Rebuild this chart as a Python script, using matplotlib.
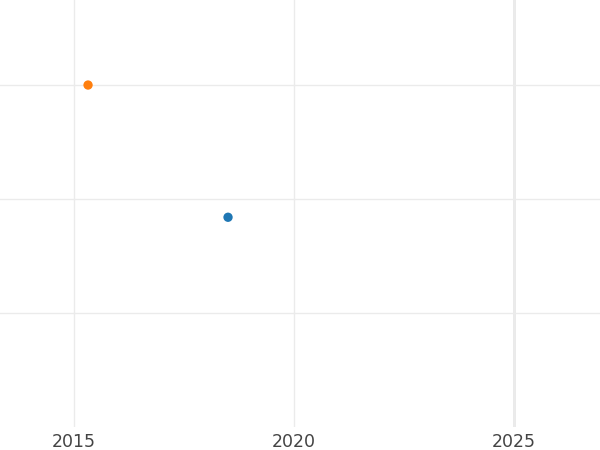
import matplotlib.pyplot as plt

# point data
years = [2015.32, 2018.5]
values = [3.0, 1.84]
colors = ['#ff7f0e', '#1f77b4']

x_ticks = [2015, 2020, 2025]
y_ticks = [1, 2, 3]

fig = plt.figure(figsize=(6, 4.5), dpi=100)
ax = fig.add_axes([0, 1 - 427 / 450, 1, 427 / 450])

ax.scatter(years, values, c=colors, s=45, zorder=3, linewidths=0)

ax.set_xlim(2013.32, 2026.95)
ax.set_ylim(0, 3.746)
ax.set_xticks(x_ticks)
ax.set_yticks(y_ticks)
ax.set_yticklabels([])
ax.grid(True, color='#ebebeb', linewidth=1)
ax.axvline(2025, color='#e8e8e8', linewidth=2, zorder=1)
ax.tick_params(length=0, labelsize=12.5, labelcolor='#444444', pad=4.5)
for s in ax.spines.values():
    s.set_visible(False)

fig.savefig('out.png', dpi=100)
